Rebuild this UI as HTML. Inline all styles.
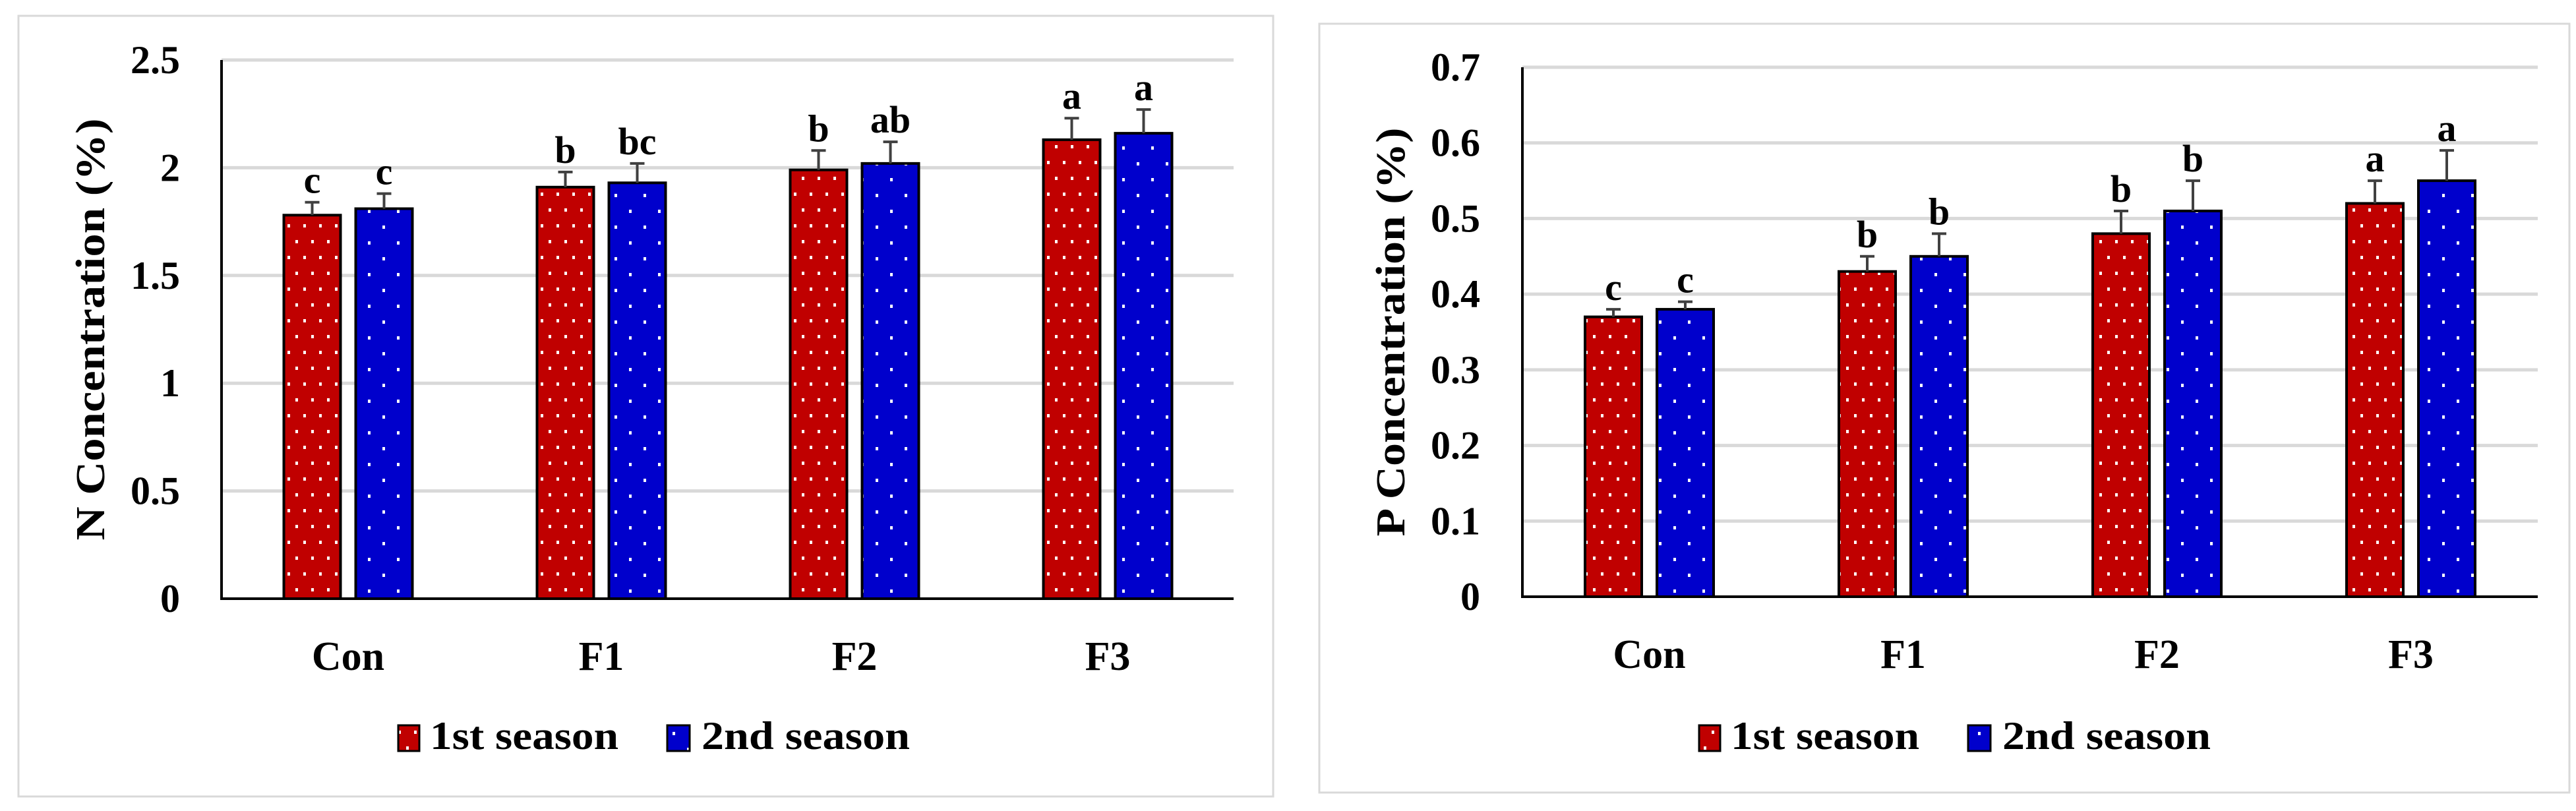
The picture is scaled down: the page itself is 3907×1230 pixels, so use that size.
<!DOCTYPE html>
<html><head><meta charset="utf-8"><style>
html,body{margin:0;padding:0;background:#fff;}
svg{display:block;}
text{font-family:"Liberation Serif",serif;font-weight:bold;fill:#000;}
</style></head><body>
<svg id="root" width="3907" height="1230" viewBox="0 0 3907 1230" xmlns="http://www.w3.org/2000/svg">
<defs>
<pattern id="dotRed" patternUnits="userSpaceOnUse" width="24" height="48"><rect width="24" height="48" fill="#c00000"/><rect x="4" y="4" width="4" height="5" fill="#fff"/><rect x="16" y="28" width="4" height="5" fill="#fff"/></pattern>
<pattern id="dotBlue" patternUnits="userSpaceOnUse" width="44" height="48"><rect width="44" height="48" fill="#0000cc"/><rect x="8" y="6" width="4" height="5" fill="#fff"/><rect x="30" y="30" width="4" height="5" fill="#fff"/></pattern>
</defs>
<rect x="28" y="24" width="1903" height="1184" fill="#fff" stroke="#d9d9d9" stroke-width="3"/>
<rect x="2001" y="36" width="1896" height="1166" fill="#fff" stroke="#d9d9d9" stroke-width="3"/>
<g id="g1"></g>
<g id="g2"></g>
</svg>
<script>
const categories = ["Con","F1","F2","F3"];
const nSeason1 = [1.78,1.91,1.99,2.13];
const nSeason2 = [1.81,1.93,2.02,2.16];
const nErr1 = [0.06,0.07,0.09,0.10];
const nErr2 = [0.07,0.09,0.10,0.11];
const nLetters1 = ["c","b","b","a"];
const nLetters2 = ["c","bc","ab","a"];
const nTicks = ["0","0.5","1","1.5","2","2.5"];
const pSeason1 = [0.37,0.43,0.48,0.52];
const pSeason2 = [0.38,0.45,0.51,0.55];
const pErr1 = [0.01,0.02,0.03,0.03];
const pErr2 = [0.01,0.03,0.04,0.04];
const pLetters1 = ["c","b","b","a"];
const pLetters2 = ["c","b","b","a"];
const pTicks = ["0","0.1","0.2","0.3","0.4","0.5","0.6","0.7"];
const NS="http://www.w3.org/2000/svg";
function mk(parent,tag,attrs,txt){const e=document.createElementNS(NS,tag);for(const k in attrs)e.setAttribute(k,attrs[k]);if(txt!==undefined)e.textContent=txt;parent.appendChild(e);return e;}
function draw(g,cfg,s1,s2,e1,e2,l1,l2,ticks){
  const maxV=parseFloat(ticks[ticks.length-1]);
  const y=v=>cfg.y0-(v/maxV)*(cfg.y0-cfg.yTop);
  const bw=cfg.bw;
  const cat=i=>cfg.x0+cfg.step*(i+0.5);
  ticks.forEach(t=>{
    const v=parseFloat(t);
    if(v>0){const gl=mk(g,'line',{x1:cfg.x0,x2:cfg.x1,y1:y(v),y2:y(v),stroke:'#d9d9d9','stroke-width':5});
    
    }
    const tl=mk(g,'text',{x:cfg.tickX,y:y(v)+20,'text-anchor':'end','font-size':60},t);
    
    
  });
  categories.forEach((c,i)=>{
    const cx=cat(i);
    [[s1,e1,l1,'url(#dotRed)',-1,'season1'],[s2,e2,l2,'url(#dotBlue)',1,'season2']].forEach(([s,e,l,f,d,nm])=>{
      const bx=d<0?cx-cfg.gap/2-bw:cx+cfg.gap/2;
      const b=mk(g,'rect',{x:bx,y:y(s[i]),width:bw,height:cfg.y0-y(s[i]),fill:f,stroke:'#000','stroke-width':4});
      
      
      const mx=bx+bw/2, ty=y(s[i]+e[i]);
      const eb=mk(g,'path',{d:`M${mx},${y(s[i])}V${ty}M${mx-11},${ty}H${mx+11}`,stroke:'#404040','stroke-width':4,fill:'none'});
      
      
      const lt=mk(g,'text',{x:mx,y:ty-14,'text-anchor':'middle','font-size':58},l[i]);
      
      
    });
    const xl=mk(g,'text',{x:cx,y:cfg.y0+108,'text-anchor':'middle','font-size':62},c);
    
    
  });
  const ax=mk(g,'path',{d:`M${cfg.x0},${cfg.yTop}V${cfg.y0}H${cfg.x1}`,stroke:'#000','stroke-width':4,fill:'none'});
  
  
  const yt=mk(g,'text',{transform:`translate(${cfg.titleX},${(cfg.y0+cfg.yTop)/2}) rotate(-90)`,'text-anchor':'middle','font-size':62,'font-family':'Liberation Serif',textLength:cfg.titleLen,lengthAdjust:'spacingAndGlyphs'},cfg.title);
  
  
  const lr=mk(g,'rect',{x:cfg.legX,y:1100,width:32,height:39,fill:'url(#dotRed)',stroke:'#000','stroke-width':3});
  
  
  const lt1=mk(g,'text',{x:cfg.legX+48,y:1136,'font-size':60,textLength:286,lengthAdjust:'spacingAndGlyphs'},'1st season');
  
  
  const lb=mk(g,'rect',{x:cfg.legX+408,y:1100,width:34,height:39,fill:'url(#dotBlue)',stroke:'#000','stroke-width':3});
  
  
  const lt2=mk(g,'text',{x:cfg.legX+460,y:1136,'font-size':60,textLength:316,lengthAdjust:'spacingAndGlyphs'},'2nd season');
  
  
}
draw(document.getElementById('g1'),{x0:336,x1:1871,y0:908,yTop:91,step:384,bw:86,gap:23,tickX:273,titleX:158,titleLen:640,title:'N Concentration (%)',legX:604},nSeason1,nSeason2,nErr1,nErr2,nLetters1,nLetters2,nTicks);
draw(document.getElementById('g2'),{x0:2309,x1:3849,y0:905,yTop:102,step:385,bw:86,gap:23,tickX:2245,titleX:2130,titleLen:620,title:'P Concentration (%)',legX:2577},pSeason1,pSeason2,pErr1,pErr2,pLetters1,pLetters2,pTicks);
</script>
</body></html>
